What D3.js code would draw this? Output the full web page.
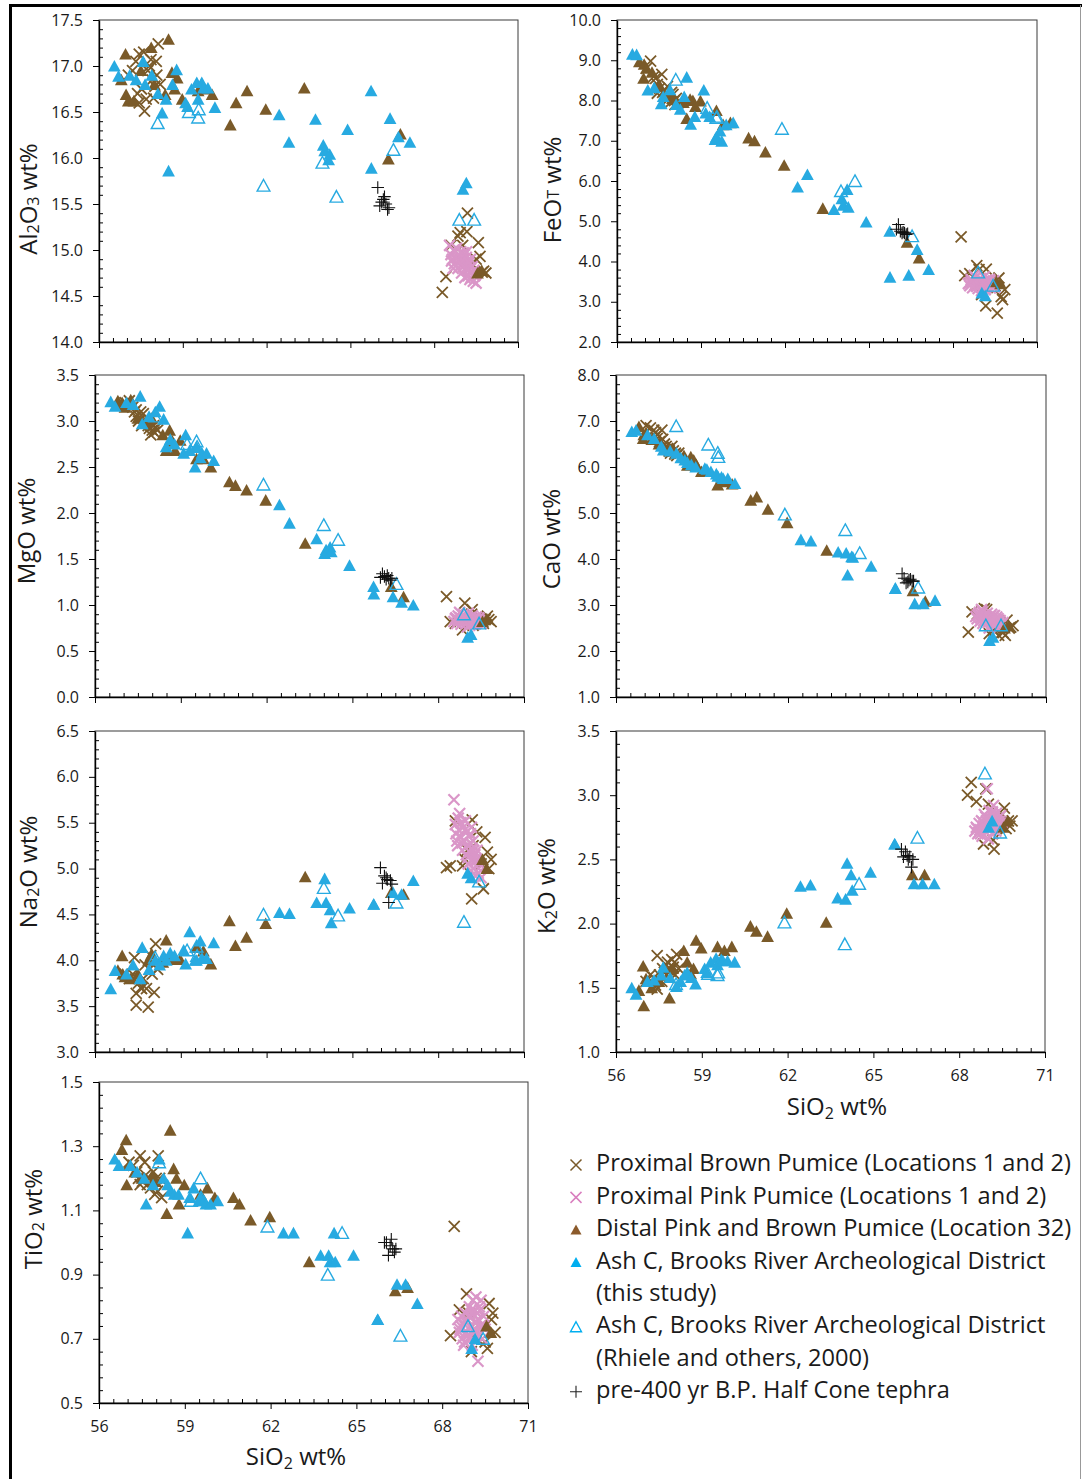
<!DOCTYPE html>
<html><head><meta charset="utf-8">
<script src="https://cdn.jsdelivr.net/npm/d3@7"></script>
<style>body{margin:0;background:#fff}svg{display:block}</style>
</head><body>
<svg id="chart" width="1082" height="1479"></svg>
<script>
// ---------- DATA ----------
// column order of every sample row
const oxides = ["SiO2","Al2O3","FeOT","MgO","CaO","Na2O","K2O","TiO2"];

const xTicks = [56,59,62,65,68,71];
const ticksAl = [14.0,14.5,15.0,15.5,16.0,16.5,17.0,17.5];
const ticksFe = [2.0,3.0,4.0,5.0,6.0,7.0,8.0,9.0,10.0];
const ticksMg = [0.0,0.5,1.0,1.5,2.0,2.5,3.0,3.5];
const ticksCa = [1.0,2.0,3.0,4.0,5.0,6.0,7.0,8.0];
const ticksNa = [3.0,3.5,4.0,4.5,5.0,5.5,6.0,6.5];
const ticksK  = [1.0,1.5,2.0,2.5,3.0,3.5];
const ticksTi = [0.5,0.7,0.9,1.1,1.3,1.5];

const seriesNames = [
  "Proximal Brown Pumice (Locations 1 and 2)",
  "Proximal Pink Pumice (Locations 1 and 2)",
  "Distal Pink and Brown Pumice (Location 32)",
  "Ash C, Brooks River Archeological District",
  "(this study)",
  "Ash C, Brooks River Archeological District",
  "(Rhiele and others, 2000)",
  "pre-400 yr B.P. Half Cone tephra"
];

// Proximal Brown Pumice  [SiO2, Al2O3, FeOT, MgO, CaO, Na2O, K2O, TiO2]
const proximalBrown = [
  [57.05,16.90,8.80,3.20,6.90,3.85,1.55,1.25],
  [57.20,16.95,8.98,3.22,6.85,3.80,1.60,1.24],
  [57.32,17.05,8.60,3.15,6.80,3.85,1.58,1.22],
  [57.38,16.70,8.55,3.10,6.75,4.03,1.52,1.20],
  [57.44,17.13,8.40,3.12,6.70,3.51,1.75,1.27],
  [57.44,16.60,8.18,3.05,6.62,3.64,1.49,1.18],
  [57.52,16.75,8.30,3.00,6.55,3.75,1.60,1.19],
  [57.60,17.15,8.65,3.10,6.80,3.70,1.55,1.25],
  [57.63,16.51,8.20,2.95,6.60,3.69,1.65,1.21],
  [57.69,16.64,8.25,3.08,6.50,3.80,1.62,1.18],
  [57.75,16.95,8.10,3.02,6.45,3.95,1.68,1.20],
  [57.80,17.00,8.35,2.98,6.40,3.69,1.70,1.17],
  [57.86,17.07,8.05,2.95,6.35,3.49,1.58,1.19],
  [57.90,16.85,7.95,2.92,6.30,3.90,1.63,1.22],
  [57.95,16.65,8.20,2.85,6.45,4.05,1.72,1.15],
  [58.00,16.78,8.15,2.90,6.35,3.85,1.66,1.20],
  [58.05,17.05,8.00,2.95,6.28,3.95,1.70,1.16],
  [58.07,16.90,7.90,2.88,6.30,3.65,1.60,1.27],
  [58.12,17.24,8.05,2.92,6.25,4.18,1.76,1.20],
  [58.19,16.80,7.95,2.90,6.30,3.90,1.65,1.14],
  [68.29,14.54,4.61,1.09,2.41,5.01,3.00,0.71],
  [68.42,14.71,3.65,0.82,2.85,5.03,3.10,1.05],
  [68.60,15.05,3.70,0.80,2.80,5.52,2.95,0.79],
  [68.85,15.15,3.90,0.73,2.92,5.03,2.62,0.84],
  [68.93,15.19,3.80,1.02,2.90,5.10,3.05,0.78],
  [69.02,15.05,3.18,0.85,2.38,5.20,2.93,0.66],
  [69.17,15.20,2.90,0.90,2.45,4.67,2.70,0.75],
  [69.19,15.40,3.81,0.95,2.50,5.53,2.65,0.72],
  [69.22,14.80,3.35,0.78,2.60,5.25,2.58,0.70],
  [69.35,14.85,3.50,0.86,2.34,5.40,2.75,0.74],
  [69.50,14.90,3.40,0.80,2.40,5.05,2.85,0.69],
  [69.58,15.08,2.72,0.80,2.34,4.78,2.90,0.67],
  [69.64,14.93,3.59,0.84,2.67,5.34,2.74,0.81],
  [69.72,14.76,3.13,0.88,2.50,5.18,2.80,0.76],
  [69.77,14.77,3.05,0.84,2.52,5.00,2.76,0.78],
  [69.85,14.75,3.30,0.82,2.55,5.10,2.80,0.72]
];

// Proximal Pink Pumice
const proximalPink = [
  [68.55,15.05,3.45,0.82,2.75,5.75,2.72,0.76],
  [68.60,14.95,3.40,0.85,2.70,5.48,2.75,0.72],
  [68.62,14.88,3.48,0.86,2.78,5.38,2.74,0.73],
  [68.65,14.90,3.55,0.80,2.80,5.30,2.70,0.74],
  [68.68,14.80,3.50,0.84,2.84,5.25,2.71,0.77],
  [68.70,15.00,3.35,0.88,2.65,5.55,2.78,0.70],
  [68.72,14.85,3.50,0.83,2.72,5.42,2.73,0.75],
  [68.75,14.98,3.65,0.92,2.90,5.60,2.70,0.68],
  [68.78,14.92,3.42,0.86,2.85,5.35,2.80,0.69],
  [68.80,15.02,3.60,0.79,2.60,5.50,2.68,0.78],
  [68.83,14.93,3.40,0.83,2.66,5.28,2.79,0.75],
  [68.85,14.80,3.38,0.84,2.78,5.20,2.76,0.72],
  [68.88,14.95,3.47,0.90,2.68,5.45,2.85,0.76],
  [68.90,14.88,3.33,0.82,2.74,5.30,2.72,0.71],
  [68.93,14.83,3.55,0.88,2.74,5.42,2.83,0.70],
  [68.95,14.98,3.52,0.87,2.82,5.52,2.80,0.80],
  [68.98,14.75,3.44,0.80,2.62,5.15,3.05,0.74],
  [69.00,14.90,3.58,0.85,2.70,5.40,2.74,0.77],
  [69.02,14.86,3.28,0.76,2.50,5.25,2.66,0.79],
  [69.04,14.97,3.44,0.82,2.70,5.12,2.77,0.78],
  [69.05,14.82,3.36,0.91,2.76,5.05,2.88,0.68],
  [69.08,14.95,3.48,0.83,2.66,5.35,2.82,0.82],
  [69.10,14.70,3.40,0.78,2.80,5.18,2.78,0.73],
  [69.12,14.85,3.62,0.86,2.58,5.28,2.86,0.79],
  [69.13,14.80,3.32,0.86,2.62,5.38,2.74,0.72],
  [69.15,14.92,3.30,0.84,2.72,4.98,2.70,0.75],
  [69.16,14.98,3.43,0.81,2.76,5.45,2.87,0.73],
  [69.18,14.78,3.45,0.80,2.64,5.22,2.84,0.83],
  [69.20,14.88,3.54,0.88,2.77,5.10,2.92,0.71],
  [69.22,14.72,3.38,0.82,2.55,5.30,2.76,0.78],
  [69.24,14.86,3.47,0.84,2.70,5.20,2.83,0.76],
  [69.25,14.80,3.50,0.86,2.68,5.00,2.80,0.63],
  [69.28,14.68,3.42,0.79,2.74,5.15,2.72,0.76],
  [69.30,14.90,3.56,0.84,2.60,4.92,2.86,0.80],
  [69.32,14.70,3.52,0.80,2.66,5.10,2.77,0.79],
  [69.33,14.75,3.34,0.87,2.70,5.08,2.78,0.74],
  [69.36,14.82,3.46,0.81,2.52,5.20,2.82,0.82],
  [69.40,14.66,3.40,0.85,2.66,4.95,2.75,0.70],
  [69.42,14.78,3.38,0.86,2.60,5.00,2.80,0.74],
  [69.45,14.72,3.52,0.83,2.58,5.05,2.84,0.77],
  [69.50,14.64,3.36,0.80,2.62,4.90,2.79,0.73]
];

// Distal Pink and Brown Pumice
const distal = [
  [56.80,16.85,8.96,3.22,6.88,3.89,1.48,1.29],
  [56.95,17.13,8.55,3.20,6.62,4.05,1.67,1.32],
  [56.97,16.69,8.90,3.18,6.70,3.85,1.36,1.18],
  [57.05,16.62,8.80,3.15,6.75,3.82,1.57,1.24],
  [57.25,16.62,8.70,3.23,6.60,3.80,1.50,1.22],
  [57.50,16.95,8.40,3.03,6.50,3.85,1.55,1.20],
  [57.87,17.20,8.11,3.00,6.35,4.00,1.42,1.21],
  [57.98,16.80,8.05,3.03,6.40,4.07,1.65,1.19],
  [58.37,16.69,7.95,2.85,6.25,3.98,1.79,1.09],
  [58.49,17.29,7.55,2.68,6.04,4.22,1.70,1.35],
  [58.61,16.93,8.03,2.90,6.22,4.01,1.61,1.23],
  [58.71,16.75,8.00,2.78,6.15,4.02,1.65,1.20],
  [58.80,16.87,7.85,2.68,6.05,4.03,1.87,1.12],
  [58.98,16.64,7.99,2.79,5.90,4.01,1.81,1.18],
  [59.55,16.73,7.75,2.59,5.61,4.14,1.82,1.15],
  [59.79,16.75,7.40,2.59,5.68,4.10,1.79,1.17],
  [60.05,16.69,7.45,2.50,5.63,3.96,1.82,1.14],
  [60.70,16.36,7.07,2.34,5.28,4.43,1.98,1.14],
  [60.91,16.60,7.00,2.30,5.35,4.16,1.94,1.12],
  [61.30,16.73,6.72,2.25,5.08,4.25,1.90,1.07],
  [61.97,16.53,6.39,2.14,4.79,4.40,2.08,1.08],
  [63.35,16.76,5.32,1.67,4.19,4.91,2.01,0.94],
  [66.36,15.99,4.48,1.20,3.31,4.74,2.38,0.85],
  [66.79,16.26,4.09,1.09,3.08,4.72,2.38,0.86],
  [69.55,14.75,3.50,0.82,2.50,5.10,2.75,0.74],
  [69.70,14.78,3.45,0.85,2.55,5.00,2.80,0.72]
];

// Ash C, Brooks River (this study)
const ashCThisStudy = [
  [56.55,17.00,9.15,3.21,6.77,3.69,1.50,1.26],
  [56.70,16.89,9.14,3.16,6.80,3.89,1.45,1.24],
  [57.10,16.90,8.26,3.20,6.70,3.85,1.55,1.24],
  [57.33,16.85,8.32,3.18,6.62,3.95,1.56,1.22],
  [57.58,17.05,7.92,3.27,6.45,3.80,1.60,1.20],
  [57.65,16.80,8.10,2.97,6.37,4.14,1.66,1.12],
  [57.89,16.90,8.27,3.05,6.35,3.90,1.58,1.18],
  [58.11,16.70,7.90,3.10,6.30,4.00,1.51,1.26],
  [58.26,16.49,7.78,3.16,6.20,3.95,1.55,1.20],
  [58.40,16.64,8.10,3.02,6.15,4.05,1.60,1.18],
  [58.49,15.86,8.58,2.72,6.10,4.00,1.62,1.16],
  [58.63,16.80,7.41,2.80,6.05,4.08,1.58,1.15],
  [58.78,16.96,7.60,2.75,6.00,4.05,1.53,1.15],
  [59.10,16.60,8.26,2.65,5.97,4.11,1.65,1.03],
  [59.17,16.56,7.69,2.85,5.95,3.96,1.62,1.14],
  [59.31,16.75,7.60,2.68,5.90,4.31,1.70,1.17],
  [59.50,16.82,7.03,2.50,5.85,4.00,1.73,1.13],
  [59.55,16.64,7.10,2.72,5.80,4.00,1.68,1.14],
  [59.68,16.82,7.24,2.60,5.78,4.21,1.72,1.13],
  [59.74,16.76,6.99,2.65,5.75,4.02,1.71,1.12],
  [59.90,16.76,7.40,2.65,5.75,4.02,1.71,1.12],
  [60.15,16.55,7.45,2.57,5.64,4.19,1.70,1.13],
  [62.45,16.47,5.85,2.09,4.42,4.52,2.29,1.03],
  [62.80,16.17,6.16,1.89,4.39,4.51,2.30,1.03],
  [63.75,16.42,5.29,1.72,4.15,4.63,2.20,0.96],
  [64.03,16.14,5.56,1.56,4.13,4.89,2.19,0.96],
  [64.08,16.08,5.40,1.60,3.65,4.63,2.47,0.94],
  [64.22,15.98,5.79,1.63,4.05,4.55,2.38,1.03],
  [64.26,16.04,5.35,1.58,4.04,4.41,2.26,0.94],
  [64.90,16.31,4.98,1.43,3.84,4.57,2.40,0.96],
  [65.74,16.73,4.75,1.20,3.36,4.61,2.62,0.76],
  [65.75,15.89,3.61,1.12,3.36,4.61,2.62,0.76],
  [66.42,16.43,3.66,1.09,3.03,4.74,2.31,0.87],
  [66.72,16.23,4.30,1.03,3.03,4.72,2.31,0.87],
  [67.13,16.17,3.80,1.00,3.10,4.87,2.31,0.81],
  [69.03,15.66,3.22,0.65,2.23,4.95,2.75,0.67],
  [69.15,15.73,3.15,0.68,2.30,4.90,2.80,0.70]
];

// Ash C, Brooks River (Rhiele and others, 2000)
const ashCRhiele = [
  [58.10,16.38,8.52,3.05,6.89,4.03,1.53,1.25],
  [59.22,16.50,7.82,2.75,6.49,4.11,1.61,1.13],
  [59.55,16.44,7.57,2.78,6.31,4.15,1.60,1.20],
  [59.57,16.53,7.60,2.72,6.22,4.05,1.62,1.14],
  [61.89,15.70,7.30,2.31,4.97,4.50,2.01,1.05],
  [64.00,15.95,5.75,1.87,4.63,4.79,1.84,0.90],
  [64.50,15.58,6.00,1.71,4.13,4.49,2.31,1.03],
  [66.54,16.09,4.63,1.23,3.38,4.63,2.67,0.71],
  [68.90,15.33,3.73,0.90,2.56,4.42,3.17,0.74],
  [69.43,15.33,3.40,0.80,2.56,4.86,2.71,0.70]
];

// pre-400 yr B.P. Half Cone tephra
const halfCone = [
  [65.98,15.68,4.80,1.30,3.68,5.01,2.58,1.00],
  [66.05,15.48,4.92,1.34,3.58,4.84,2.52,1.00],
  [66.12,15.52,4.75,1.31,3.48,4.92,2.56,0.96],
  [66.18,15.55,4.71,1.28,3.50,4.90,2.53,0.99],
  [66.22,15.58,4.73,1.32,3.54,4.88,2.50,1.01],
  [66.27,15.50,4.71,1.29,3.56,4.63,2.52,0.98],
  [66.33,15.44,4.67,1.27,3.52,4.87,2.44,0.97],
  [66.38,15.46,4.69,1.29,3.52,4.83,2.50,0.98]
];

// ---------- STYLE / LAYOUT ----------
const BROWN = "#7a5a29", PINK = "#da96c8", BLUE = "#27aae1", BLACK = "#111";
const FONT = "'Open Sans', 'Noto Sans', sans-serif";

const series = [
  {data: proximalBrown, kind: "x", color: BROWN, size: 5.5, lw: 1.8},
  {data: proximalPink,  kind: "x", color: PINK, size: 5.5, lw: 2.2},
  {data: distal,        kind: "tri", color: BROWN, size: 5.8},
  {data: ashCThisStudy, kind: "tri", color: BLUE, size: 5.8},
  {data: ashCRhiele,    kind: "open", color: BLUE, size: 5.8},
  {data: halfCone,      kind: "plus", color: BLACK, size: 5.2}
];

const panels = [
  {ox:"Al2O3", ticks:ticksAl, minor:0.1, l:99,  r:518,  t:20,   b:342,  tx:31,  ty:199,
   title:[["Al",0],["2",1],["O",0],["3",1],[" wt%",0]]},
  {ox:"FeOT",  ticks:ticksFe, minor:0.2, l:617, r:1037, t:20,   b:342,  tx:555, ty:190,
   title:[["FeO",0],["T",2],[" wt%",0]]},
  {ox:"MgO",   ticks:ticksMg, minor:0.1, l:95,  r:524,  t:375,  b:697,  tx:29,  ty:531,
   title:[["MgO wt%",0]]},
  {ox:"CaO",   ticks:ticksCa, minor:0.2, l:616, r:1046, t:375,  b:697,  tx:554, ty:539,
   title:[["CaO wt%",0]]},
  {ox:"Na2O",  ticks:ticksNa, minor:0.1, l:95,  r:524,  t:731,  b:1052, tx:31,  ty:872,
   title:[["Na",0],["2",1],["O wt%",0]]},
  {ox:"K2O",   ticks:ticksK,  minor:0.1, l:616, r:1045, t:731,  b:1052, tx:549, ty:886,
   title:[["K",0],["2",1],["O wt%",0]], xlab:{x:837, y:1115}},
  {ox:"TiO2",  ticks:ticksTi, minor:0.04, l:99, r:528,  t:1082, b:1403, tx:36,  ty:1219,
   title:[["TiO",0],["2",1],[" wt%",0]], xlab:{x:296, y:1465}}
];

const svg = d3.select("#chart");

// outer frame
svg.append("line").attr("x1",9).attr("x2",1082).attr("y1",5.5).attr("y2",5.5).attr("stroke","#000").attr("stroke-width",3);
svg.append("line").attr("x1",10.5).attr("x2",10.5).attr("y1",4).attr("y2",1479).attr("stroke","#000").attr("stroke-width",3);
svg.append("line").attr("x1",1080.5).attr("x2",1080.5).attr("y1",5).attr("y2",1479).attr("stroke","#999").attr("stroke-width",1);

function markerPath(kind, s) {
  if (kind === "x") return `M${-s},${-s}L${s},${s}M${-s},${s}L${s},${-s}`;
  if (kind === "plus") return `M${-s*1.2},0H${s*1.2}M0,${-s*1.2}V${s*1.2}`;
  return `M0,${-s*1.05}L${s*1.1},${s*0.95}L${-s*1.1},${s*0.95}Z`;
}
function styleMarker(sel, sr) {
  if (sr.kind === "tri") sel.attr("fill", sr.color).attr("stroke","none");
  else if (sr.kind === "open") sel.attr("fill","none").attr("stroke",sr.color).attr("stroke-width",1.4);
  else if (sr.kind === "x") sel.attr("fill","none").attr("stroke",sr.color).attr("stroke-width",sr.lw || 1.8);
  else sel.attr("fill","none").attr("stroke",sr.color).attr("stroke-width",1.1);
}

const fmt = d3.format(".1f");

panels.forEach(p => {
  const col = oxides.indexOf(p.ox);
  const yDom = d3.extent(p.ticks);
  const x = d3.scaleLinear().domain(d3.extent(xTicks)).range([p.l, p.r]);
  const y = d3.scaleLinear().domain(yDom).range([p.b, p.t]);
  const g = svg.append("g");

  // plot box
  g.append("rect").attr("x",p.l).attr("y",p.t).attr("width",p.r-p.l).attr("height",p.b-p.t)
    .attr("fill","none").attr("stroke","#3a3a3a").attr("stroke-width",1);

  // minor ticks (inside)
  const yMinor = d3.range(yDom[0], yDom[1] + 1e-9, p.minor).filter(v => !p.ticks.some(t => Math.abs(t - v) < 1e-6));
  const xMinor = d3.range(56, 71.0001, 0.5).filter(v => !xTicks.includes(v));
  g.append("g").attr("transform",`translate(${p.l},0)`)
    .call(d3.axisRight(y).tickValues(yMinor).tickSize(4).tickFormat(""))
    .call(a => a.select(".domain").remove())
    .selectAll("line").attr("stroke","#000");
  g.append("g").attr("transform",`translate(0,${p.b})`)
    .call(d3.axisTop(x).tickValues(xMinor).tickSize(4).tickFormat(""))
    .call(a => a.select(".domain").remove())
    .selectAll("line").attr("stroke","#000");

  // major axes
  const ya = g.append("g").attr("transform",`translate(${p.l},0)`)
    .call(d3.axisLeft(y).tickValues(p.ticks).tickSize(6).tickSizeOuter(0).tickPadding(10).tickFormat(fmt));
  const xa = g.append("g").attr("transform",`translate(0,${p.b})`)
    .call(d3.axisBottom(x).tickValues(xTicks).tickSize(6).tickSizeOuter(0).tickPadding(12)
      .tickFormat(p.xlab ? d3.format("d") : ""));
  [ya, xa].forEach(a => {
    a.select(".domain").attr("stroke","#000").attr("stroke-width",1.4);
    a.selectAll("line").attr("stroke","#000");
    a.selectAll("text").attr("font-family",FONT).attr("font-size",16).attr("fill","#1a1a1a");
  });

  // points
  series.forEach(sr => {
    g.append("g").selectAll("path").data(sr.data).join("path")
      .attr("d", markerPath(sr.kind, sr.size))
      .attr("transform", d => `translate(${x(d[0])},${y(d[col])})`)
      .call(sel => styleMarker(sel, sr));
  });

  // y title
  const tt = g.append("text").attr("transform",`translate(${p.tx},${p.ty}) rotate(-90)`)
    .attr("text-anchor","middle").attr("dominant-baseline","middle")
    .attr("font-family",FONT).attr("font-size",24).attr("fill","#1a1a1a");
  p.title.forEach(([s, k]) => {
    const ts = tt.append("tspan").text(s);
    if (k === 1) ts.attr("font-size",16).attr("baseline-shift","-22%");
    if (k === 2) ts.attr("font-size",16);
  });

  if (p.xlab) {
    const xt = g.append("text").attr("x",p.xlab.x).attr("y",p.xlab.y).attr("text-anchor","middle")
      .attr("font-family",FONT).attr("font-size",24).attr("fill","#1a1a1a");
    xt.append("tspan").text("SiO");
    xt.append("tspan").text("2").attr("font-size",16).attr("baseline-shift","-22%");
    xt.append("tspan").text(" wt%");
  }
});

// legend
const legendRows = [0,1,2,3,null,4,null,5]; // series index per text line
const legendColors = ["#7a5a29","#d97fbf","#8b5a2b","#00aeef","#00aeef","#222"];
const lg = svg.append("g");
seriesNames.forEach((name, i) => {
  const yy = 1165 + i * 32.4;
  lg.append("text").attr("x",596).attr("y",yy).attr("dominant-baseline","middle")
    .attr("font-family",FONT).attr("font-size",23.6).attr("fill","#1a1a1a").text(name);
  const si = legendRows[i];
  if (si !== null) {
    const sr = series[si];
    lg.append("path").attr("d", markerPath(sr.kind, sr.kind === "x" ? 5.5 : 5))
      .attr("transform",`translate(576,${yy})`)
      .call(sel => styleMarker(sel, {kind: sr.kind, color: legendColors[si], lw: 1.5}));
  }
});
</script>
</body></html>
